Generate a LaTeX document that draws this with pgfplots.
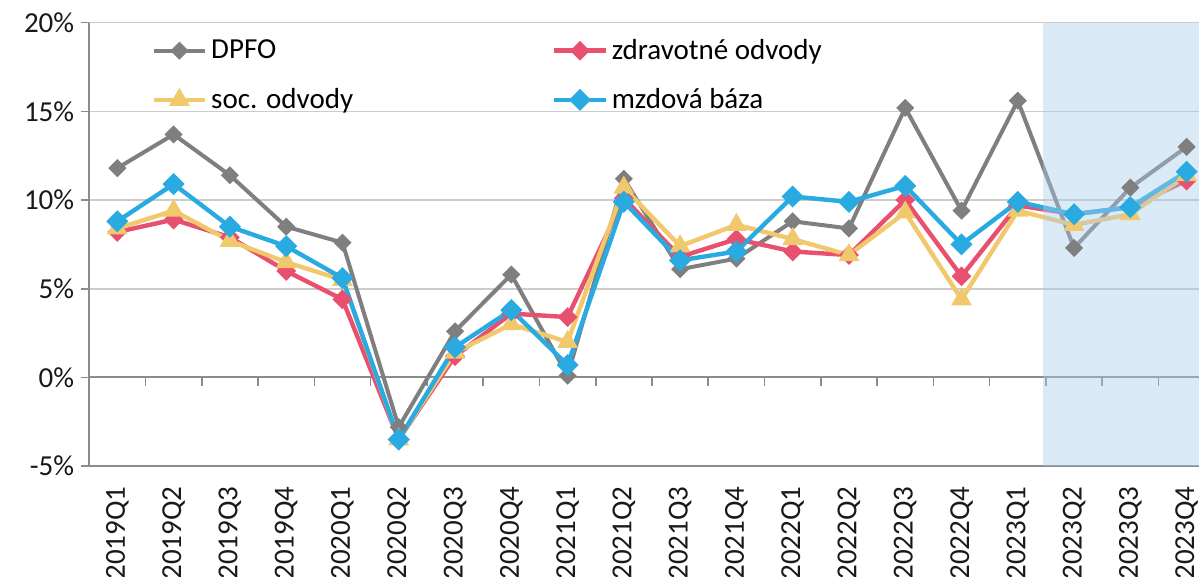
\documentclass[border=0pt]{standalone}
\usepackage{fontspec}
\setmainfont{Carlito}
\usepackage{pgfplots}
\usepackage{pgfplotstable}
\pgfplotsset{compat=1.18}

\definecolor{cdpfo}{HTML}{7F7F7F}
\definecolor{czdrav}{HTML}{E8506F}
\definecolor{csoc}{HTML}{F2C86C}
\definecolor{cmzda}{HTML}{29ABE2}
\definecolor{cband}{HTML}{AACDEB}
\definecolor{cgrid}{HTML}{CCCCCC}
\definecolor{caxis}{HTML}{8C8C8C}

% medziročné zmeny, %
\pgfplotstableread{
x  dpfo  zdrav soc   mzda
0  11.8  8.2   8.4   8.8
1  13.7  8.9   9.4   10.9
2  11.4  7.9   7.7   8.5
3  8.5   6.0   6.5   7.4
4  7.6   4.4   5.5   5.6
5  -2.8  -3.5  -3.5  -3.5
6  2.6   1.2   1.4   1.7
7  5.8   3.6   3.0   3.8
8  0.1   3.4   2.0   0.7
9  11.2  10.1  10.7  9.9
10 6.1   6.8   7.4   6.6
11 6.7   7.8   8.6   7.1
12 8.8   7.1   7.8   10.2
13 8.4   6.9   6.9   9.9
14 15.2  10.0  9.3   10.8
15 9.4   5.7   4.4   7.5
16 15.6  9.7   9.4   9.9
17 7.3   9.2   8.6   9.2
18 10.7  9.6   9.2   9.6
19 13.0  11.1  11.4  11.6
}\data

\begin{document}
\begin{tikzpicture}
\begin{axis}[
  name=ax,
  scale only axis,
  width=554.9pt, height=221.7pt,
  xmin=-0.5, xmax=19.22,
  ymin=-5, ymax=20,
  ytick={-5,0,5,10,15,20},
  yticklabels={-5\%,0\%,5\%,10\%,15\%,20\%},
  xtick={0,...,19},
  xticklabels={2019Q1,2019Q2,2019Q3,2019Q4,2020Q1,2020Q2,2020Q3,2020Q4,
    2021Q1,2021Q2,2021Q3,2021Q4,2022Q1,2022Q2,2022Q3,2022Q4,
    2023Q1,2023Q2,2023Q3,2023Q4},
  axis lines*=left,
  axis line style={draw=caxis, line width=0.8pt, -},
  ymajorgrids,
  grid style={draw=cgrid, line width=0.8pt},
  x tick style={draw=none},
  y tick style={draw=caxis, line width=0.8pt},
  tick align=outside,
  major tick length=4pt,
  tick label style={font=\fontsize{14.5}{17}\selectfont, text=black!90},
  xticklabel style={rotate=90, anchor=east, inner xsep=6pt},
  legend columns=2,
  legend style={draw=none, fill=none, at={(0,1)}, anchor=north west,
    xshift=28pt, yshift=-4pt,
    font=\fontsize{14.5}{17}\selectfont, cells={anchor=west},
    /tikz/every even column/.append style={column sep=97.5pt},
    row sep=9pt},
  legend image code/.code={
    \draw[mark repeat=2,mark phase=2] plot coordinates {(0cm,0cm)(0.45cm,0cm)(0.9cm,0cm)};},
]
\draw[caxis, line width=1pt] (axis cs:-0.5,0) -- (axis cs:19.22,0);
\pgfplotsinvokeforeach{-0.5,0.5,...,18.5}{
  \draw[caxis, line width=0.8pt] (axis cs:#1,0) -- ++(0pt,-4.5pt);
}
\addplot[cdpfo, line width=2pt, mark=square*, mark size=2.2pt,
  mark options={rotate=45, fill=cdpfo}] table[x=x, y=dpfo] {\data};
\addlegendentry{DPFO}
\addplot[czdrav, line width=2.2pt, mark=square*, mark size=2.4pt,
  mark options={rotate=45, fill=czdrav}] table[x=x, y=zdrav] {\data};
\addlegendentry{zdravotné odvody}
\addplot[csoc, line width=2.2pt, mark=triangle*, mark size=3.8pt,
  mark options={fill=csoc}] table[x=x, y=soc] {\data};
\addlegendentry{soc. odvody}
\addplot[cmzda, line width=2.2pt, mark=square*, mark size=2.8pt,
  mark options={rotate=45, fill=cmzda}] table[x=x, y=mzda] {\data};
\addlegendentry{mzdová báza}
\addplot[draw=none, fill=cband, fill opacity=0.42, forget plot]
  coordinates {(16.45,-5) (19.5,-5) (19.5,20) (16.45,20)} -- cycle;
\end{axis}
\pgfresetboundingbox
\path[use as bounding box] ([xshift=-44.6pt, yshift=-55.45pt]ax.south west)
  rectangle ([yshift=11.35pt]ax.north east);
\end{tikzpicture}
\end{document}
